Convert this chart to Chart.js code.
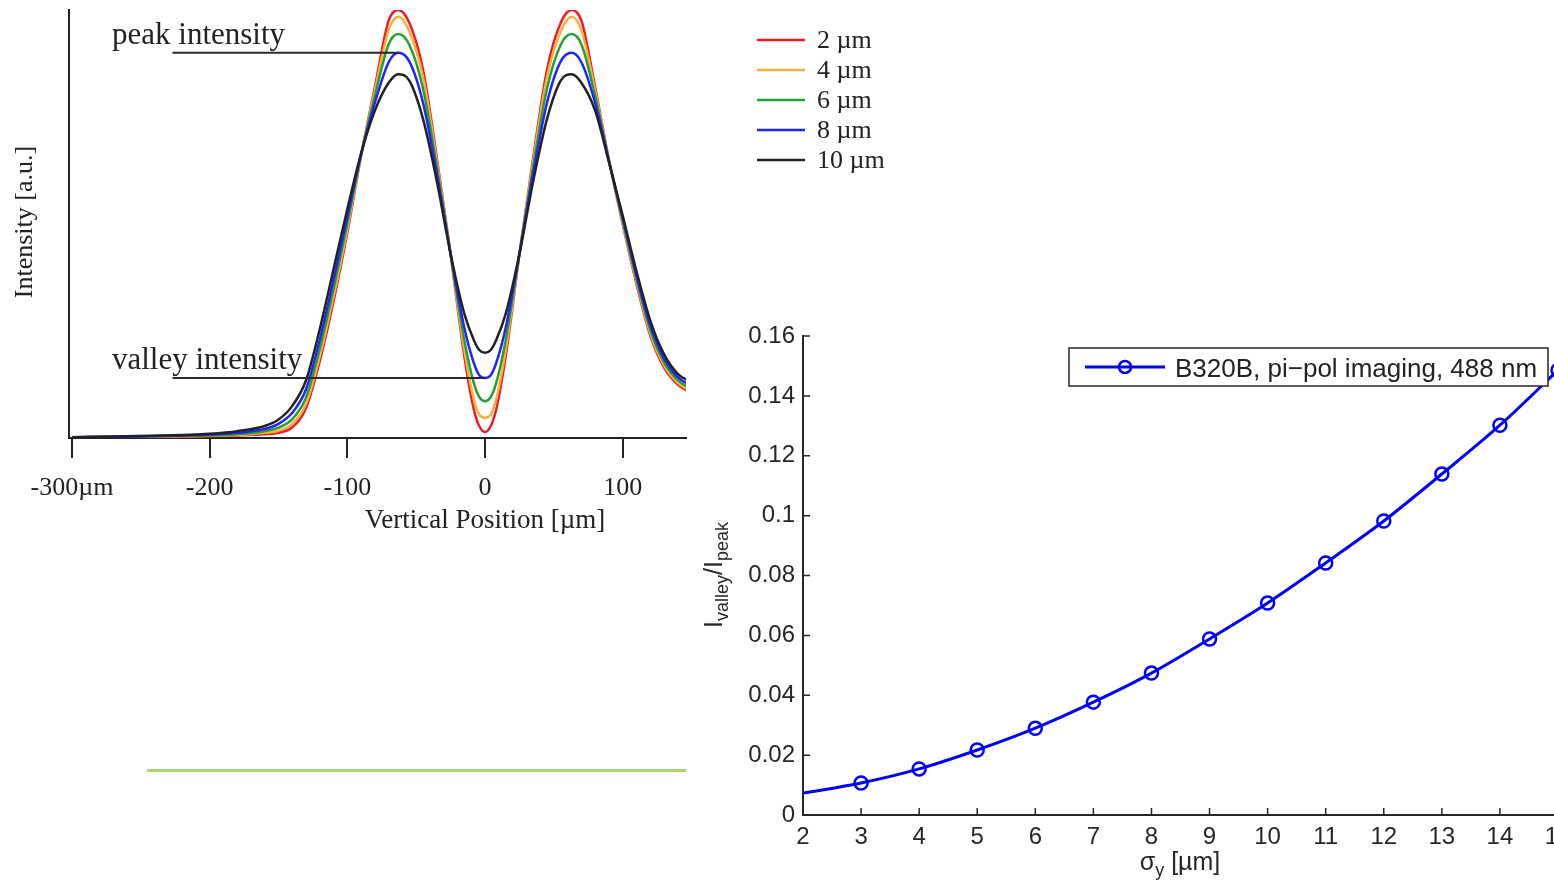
<!DOCTYPE html>
<html>
<head>
<meta charset="utf-8">
<title>Intensity profiles and valley/peak ratio</title>
<script src="https://cdn.jsdelivr.net/npm/chart.js"></script>
<style>
  html, body { margin: 0; padding: 0; background: #fff; overflow: hidden; }
  #wrap { position: relative; width: 1554px; height: 888px; overflow: hidden; background: #fff; }
  #left { position: absolute; left: 0; top: 0; }
  #right { position: absolute; left: 690px; top: 300px; }
  #green { position: absolute; left: 147px; top: 769px; width: 539px; height: 3px; background: #a9d46e; }
</style>
</head>
<body>
<div id="wrap">
  <div id="green"></div>
  <canvas id="left" width="900" height="560"></canvas>
  <canvas id="right" width="900" height="588"></canvas>
</div>
<script>
// Left panel: intensity profiles across the double peak
const positions = [-300, -260, -220, -200, -180, -160, -150, -140, -130, -120, -110, -100, -90, -80, -70, -63, -55, -45, -35, -25, -15, -8, -4, 0, 4, 8, 15, 25, 35, 45, 55, 63, 70, 80, 90, 100, 110, 120, 130, 140, 150];
const curve2 = [0.001, 0.002, 0.003, 0.004, 0.006, 0.009, 0.012, 0.025, 0.070, 0.180, 0.320, 0.480, 0.660, 0.820, 0.975, 1.000, 0.970, 0.860, 0.655, 0.430, 0.190, 0.065, 0.027, 0.014, 0.027, 0.065, 0.190, 0.430, 0.655, 0.860, 0.970, 1.000, 0.975, 0.820, 0.650, 0.500, 0.360, 0.240, 0.165, 0.125, 0.105];
const curve4 = [0.001, 0.002, 0.004, 0.005, 0.007, 0.012, 0.017, 0.033, 0.080, 0.191, 0.331, 0.488, 0.661, 0.812, 0.953, 0.984, 0.950, 0.843, 0.647, 0.430, 0.205, 0.089, 0.054, 0.047, 0.054, 0.089, 0.205, 0.430, 0.647, 0.843, 0.950, 0.984, 0.953, 0.812, 0.649, 0.503, 0.365, 0.245, 0.170, 0.129, 0.109];
const curve6 = [0.001, 0.003, 0.005, 0.006, 0.009, 0.016, 0.024, 0.044, 0.095, 0.209, 0.349, 0.501, 0.662, 0.799, 0.920, 0.944, 0.919, 0.816, 0.634, 0.430, 0.228, 0.127, 0.095, 0.086, 0.095, 0.127, 0.228, 0.430, 0.634, 0.816, 0.919, 0.944, 0.920, 0.799, 0.648, 0.508, 0.372, 0.253, 0.177, 0.135, 0.114];
const curve8 = [0.002, 0.003, 0.006, 0.008, 0.012, 0.021, 0.033, 0.059, 0.114, 0.230, 0.370, 0.517, 0.663, 0.783, 0.878, 0.900, 0.880, 0.783, 0.618, 0.430, 0.257, 0.174, 0.146, 0.140, 0.146, 0.174, 0.257, 0.430, 0.618, 0.783, 0.880, 0.900, 0.878, 0.783, 0.647, 0.514, 0.380, 0.263, 0.186, 0.142, 0.122];
const curve10 = [0.002, 0.004, 0.007, 0.010, 0.016, 0.028, 0.043, 0.075, 0.135, 0.255, 0.395, 0.535, 0.665, 0.765, 0.830, 0.850, 0.835, 0.745, 0.600, 0.430, 0.290, 0.228, 0.205, 0.199, 0.205, 0.228, 0.290, 0.430, 0.600, 0.745, 0.835, 0.850, 0.830, 0.765, 0.645, 0.520, 0.390, 0.275, 0.196, 0.150, 0.130];
const curves = [curve2, curve4, curve6, curve8, curve10];
const sigmaLabels = ['2 µm', '4 µm', '6 µm', '8 µm', '10 µm'];
const xTicks = [-300, -200, -100, 0, 100];
const xTickLabels = ['-300µm', '-200', '-100', '0', '100'];

// annotation leader lines end on the 8 µm curve
const peakLineX = [-227, -63];
const valleyLineX = [-227, 0];

// Right panel: valley / peak ratio
const sigmaY = [2, 3, 4, 5, 6, 7, 8, 9, 10, 11, 12, 13, 14, 15];
const ratio = [0.0073, 0.0107, 0.0154, 0.0217, 0.0290, 0.0377, 0.0474, 0.0588, 0.0708, 0.0842, 0.0982, 0.1139, 0.1302, 0.1486];
const legendLabel = 'B320B, pi\u2212pol imaging, 488 nm';

const serif = '"Liberation Serif", "Times New Roman", serif';
const sans = '"Liberation Sans", Arial, sans-serif';
const curveColors = ['#ee1c25', '#fbb03b', '#22a033', '#2323ff', '#222222'];

function toPoints(xs, ys) {
  return xs.map((x, i) => ({ x: x, y: ys[i] }));
}

// ---------- left chart ----------
const leftDatasets = curves.map((c, i) => ({
  label: sigmaLabels[i],
  data: toPoints(positions, c),
  borderColor: curveColors[i],
  borderWidth: 2.5,
  pointRadius: 0,
  fill: false,
  cubicInterpolationMode: 'monotone',
  order: 5 - i,
}));

const peakValue = curve8[positions.indexOf(-63)];
const valleyValue = curve8[positions.indexOf(0)];
[[peakLineX, peakValue], [valleyLineX, valleyValue]].forEach(([xs, v]) => {
  leftDatasets.push({
    label: 'annotation',
    data: xs.map(x => ({ x: x, y: v })),
    borderColor: '#2a2a2a',
    borderWidth: 2,
    pointRadius: 0,
    fill: false,
    order: 0,
  });
});

const leftDecor = {
  id: 'leftDecor',
  afterDraw(chart) {
    const ctx = chart.ctx;
    const x = chart.scales.x;
    ctx.save();
    // legend
    ctx.textAlign = 'left';
    ctx.textBaseline = 'middle';
    ctx.font = '26px ' + serif;
    sigmaLabels.forEach((lab, i) => {
      const ly = 40 + i * 30;
      ctx.strokeStyle = curveColors[i];
      ctx.lineWidth = 2.5;
      ctx.beginPath();
      ctx.moveTo(757, ly);
      ctx.lineTo(805, ly);
      ctx.stroke();
      ctx.fillStyle = '#222';
      ctx.fillText(lab, 817, ly + 1);
    });
    // annotation labels
    ctx.textBaseline = 'alphabetic';
    ctx.font = '31px ' + serif;
    ctx.fillText('peak intensity', 112, 44);
    ctx.fillText('valley intensity', 112, 369);
    // axis titles
    ctx.font = '27px ' + serif;
    ctx.textAlign = 'center';
    ctx.textBaseline = 'middle';
    ctx.fillText('Vertical Position [µm]', x.getPixelForValue(0), 521);
    ctx.font = '26px ' + serif;
    ctx.translate(25, 222);
    ctx.rotate(-Math.PI / 2);
    ctx.fillText('Intensity [a.u.]', 0, 0);
    ctx.restore();
  }
};

new Chart(document.getElementById('left').getContext('2d'), {
  type: 'line',
  data: { datasets: leftDatasets },
  options: {
    responsive: false,
    animation: false,
    layout: { padding: { left: 0, top: 10, right: 214, bottom: 0 } },
    plugins: { legend: { display: false }, tooltip: { enabled: false } },
    scales: {
      x: {
        type: 'linear',
        min: -302.2,
        max: 146,
        afterBuildTicks: scale => { scale.ticks = xTicks.map(v => ({ value: v })); },
        afterFit: scale => { scale.height = 122; },
        grid: { display: true, drawOnChartArea: false, drawTicks: true, tickLength: 20, color: '#222', lineWidth: 2 },
        border: { display: true, color: '#222', width: 2 },
        ticks: {
          padding: 15,
          color: '#222',
          font: { family: serif, size: 26 },
          maxRotation: 0,
          callback: v => xTickLabels[xTicks.indexOf(v)],
        },
      },
      y: {
        min: 0,
        max: 1,
        afterFit: scale => { scale.width = 69; },
        grid: { display: false, drawTicks: false },
        border: { display: true, color: '#222', width: 2 },
        ticks: { display: false },
      },
    },
  },
  plugins: [leftDecor],
});

// ---------- right chart ----------
function drawRich(ctx, parts, cx, baseline) {
  let total = 0;
  parts.forEach(p => {
    ctx.font = p.size + 'px ' + sans;
    p.w = ctx.measureText(p.t).width;
    total += p.w;
  });
  let px = cx - total / 2;
  parts.forEach(p => {
    ctx.font = p.size + 'px ' + sans;
    ctx.fillText(p.t, px, baseline + (p.dy || 0));
    px += p.w;
  });
}

const rightDecor = {
  id: 'rightDecor',
  afterDraw(chart) {
    const ctx = chart.ctx;
    const a = chart.chartArea;
    const x = chart.scales.x;
    const y = chart.scales.y;
    ctx.save();
    // inward tick marks
    ctx.strokeStyle = '#262626';
    ctx.lineWidth = 1.5;
    ctx.beginPath();
    x.ticks.forEach(t => {
      const px = x.getPixelForValue(t.value);
      ctx.moveTo(px, a.bottom);
      ctx.lineTo(px, a.bottom - 7);
    });
    y.ticks.forEach(t => {
      const py = y.getPixelForValue(t.value);
      ctx.moveTo(a.left, py);
      ctx.lineTo(a.left + 7, py);
    });
    ctx.stroke();

    // legend box
    ctx.fillStyle = '#fff';
    ctx.fillRect(379, 48, 479, 38);
    ctx.strokeStyle = '#262626';
    ctx.lineWidth = 1.5;
    ctx.strokeRect(379, 48, 479, 38);
    ctx.strokeStyle = '#0000ff';
    ctx.lineWidth = 3;
    ctx.beginPath();
    ctx.moveTo(395, 67);
    ctx.lineTo(475, 67);
    ctx.stroke();
    ctx.lineWidth = 2.5;
    ctx.beginPath();
    ctx.arc(435, 67, 6, 0, Math.PI * 2);
    ctx.stroke();
    ctx.fillStyle = '#222';
    ctx.font = '26px ' + sans;
    ctx.textAlign = 'left';
    ctx.textBaseline = 'middle';
    ctx.fillText(legendLabel, 485, 70);

    // axis titles with subscripts
    ctx.textBaseline = 'alphabetic';
    ctx.fillStyle = '#262626';
    drawRich(ctx, [
      { t: '\u03c3', size: 25 },
      { t: 'y', size: 18, dy: 6 },
      { t: ' [µm]', size: 25 },
    ], 490, 570);
    ctx.translate(32, 275);
    ctx.rotate(-Math.PI / 2);
    drawRich(ctx, [
      { t: 'I', size: 25 },
      { t: 'valley', size: 18, dy: 6 },
      { t: '/I', size: 25 },
      { t: 'peak', size: 18, dy: 6 },
    ], 0, 0);
    ctx.restore();
  }
};

new Chart(document.getElementById('right').getContext('2d'), {
  type: 'line',
  data: {
    datasets: [{
      label: legendLabel,
      data: toPoints(sigmaY, ratio),
      borderColor: '#0000ff',
      borderWidth: 3,
      pointRadius: ctx => (ctx.dataIndex === 0 ? 0 : 6.5),
      pointBorderWidth: 2.5,
      pointBorderColor: '#0000ff',
      pointBackgroundColor: 'rgba(0,0,0,0)',
      fill: false,
      cubicInterpolationMode: 'monotone',
    }],
  },
  options: {
    responsive: false,
    animation: false,
    layout: { padding: { left: 0, top: 36, right: 32, bottom: 0 } },
    plugins: { legend: { display: false }, tooltip: { enabled: false } },
    scales: {
      x: {
        type: 'linear',
        min: 2,
        max: 15,
        afterFit: scale => { scale.height = 73; },
        grid: { display: false, drawTicks: false },
        border: { display: true, color: '#262626', width: 2 },
        ticks: {
          stepSize: 1,
          padding: 8,
          color: '#262626',
          maxRotation: 0,
          autoSkip: false,
          font: { family: sans, size: 24 },
        },
      },
      y: {
        min: 0,
        max: 0.16,
        afterFit: scale => { scale.width = 113; },
        grid: { display: false, drawTicks: false },
        border: { display: true, color: '#262626', width: 2 },
        ticks: {
          stepSize: 0.02,
          padding: 8,
          color: '#262626',
          font: { family: sans, size: 24 },
          callback: v => String(+v.toFixed(2)),
        },
      },
    },
  },
  plugins: [rightDecor],
});
</script>
</body>
</html>
